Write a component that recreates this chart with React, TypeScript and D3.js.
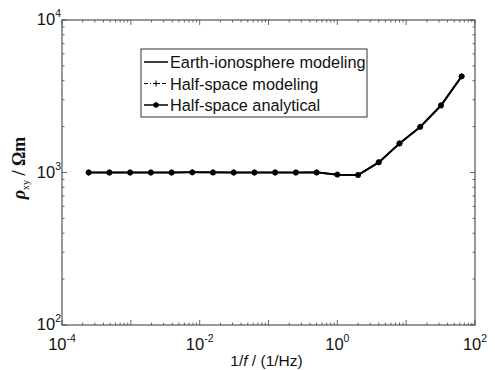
import React, { useEffect, useRef } from 'react'
import * as d3 from 'd3'

// periods 1/f in seconds (powers of two)
const periods = [
  2 ** -12, 2 ** -11, 2 ** -10, 2 ** -9, 2 ** -8, 2 ** -7, 2 ** -6, 2 ** -5, 2 ** -4,
  2 ** -3, 2 ** -2, 2 ** -1, 1, 2, 4, 8, 16, 32, 64,
]
const earthIono = [1000, 1000, 1000, 1000, 1000, 1005, 1002, 1000, 1000, 1000, 1000, 1002, 968, 962, 1165, 1550, 1990, 2750, 4270]
const halfModel = [1000, 1000, 1000, 1000, 1000, 1004, 1001, 1000, 1000, 1000, 1000, 1001, 970, 964, 1168, 1552, 1995, 2755, 4275]
const halfAnalytic = [1000, 1000, 1000, 1000, 1000, 1003, 1001, 1000, 1000, 1000, 1000, 1001, 969, 963, 1167, 1551, 1992, 2752, 4272]
const xTicks = [1e-4, 1e-2, 1, 1e2]
const xTickExp = ['-4', '-2', '0', '2']
const yTicks = [1e2, 1e3, 1e4]
const yTickExp = ['2', '3', '4']
const legendLabels = ['Earth-ionosphere modeling', 'Half-space modeling', 'Half-space analytical']

const W = 495
const H = 370
const margin = { left: 62, right: 20, top: 20, bottom: 45 }

export default function App() {
  const ref = useRef<SVGSVGElement>(null)

  useEffect(() => {
    const svg = d3.select(ref.current)
    svg.selectAll('*').remove()
    const font = 'Liberation Sans, Arial, sans-serif'

    const x = d3.scaleLog().domain([1e-4, 1e2]).range([margin.left, W - margin.right])
    const y = d3.scaleLog().domain([1e2, 1e4]).range([H - margin.bottom, margin.top])
    const x0 = x.range()[0], x1 = x.range()[1]
    const y0 = y.range()[0], y1 = y.range()[1]

    svg.append('rect').attr('x', 0).attr('y', 0).attr('width', W).attr('height', H).attr('fill', '#fff')

    // frame
    svg.append('rect')
      .attr('x', x0).attr('y', y1).attr('width', x1 - x0).attr('height', y0 - y1)
      .attr('fill', 'none').attr('stroke', '#333').attr('stroke-width', 1)

    const g = svg.append('g').attr('stroke', '#444').attr('stroke-width', 0.8)

    // x ticks (major + minor), inside, top and bottom
    const xMinor: number[] = []
    for (let e = -4; e < 2; e++) for (let m = 2; m < 10; m++) xMinor.push(m * 10 ** e)
    xMinor.forEach(v => {
      g.append('line').attr('x1', x(v)).attr('x2', x(v)).attr('y1', y0).attr('y2', y0 - 2.5)
      g.append('line').attr('x1', x(v)).attr('x2', x(v)).attr('y1', y1).attr('y2', y1 + 2.5)
    })
    d3.range(-4, 3).forEach(e => {
      const v = 10 ** e
      g.append('line').attr('x1', x(v)).attr('x2', x(v)).attr('y1', y0).attr('y2', y0 - 5)
      g.append('line').attr('x1', x(v)).attr('x2', x(v)).attr('y1', y1).attr('y2', y1 + 5)
    })
    const yMinor: number[] = []
    for (let e = 2; e < 4; e++) for (let m = 2; m < 10; m++) yMinor.push(m * 10 ** e)
    yMinor.forEach(v => {
      g.append('line').attr('y1', y(v)).attr('y2', y(v)).attr('x1', x0).attr('x2', x0 + 2.5)
      g.append('line').attr('y1', y(v)).attr('y2', y(v)).attr('x1', x1).attr('x2', x1 - 2.5)
    })
    yTicks.forEach(v => {
      g.append('line').attr('y1', y(v)).attr('y2', y(v)).attr('x1', x0).attr('x2', x0 + 5)
      g.append('line').attr('y1', y(v)).attr('y2', y(v)).attr('x1', x1).attr('x2', x1 - 5)
    })

    // tick labels
    xTicks.forEach((v, i) => {
      const t = svg.append('text').attr('x', x(v)).attr('y', y0 + 25)
        .attr('text-anchor', 'middle').attr('font-family', font).attr('font-size', 16.5).attr('fill', '#111')
      t.append('tspan').text('10')
      t.append('tspan').attr('dy', -8).attr('font-size', 10.5).text(xTickExp[i])
    })
    yTicks.forEach((v, i) => {
      const t = svg.append('text').attr('x', x0 - 1).attr('y', y(v) + 5)
        .attr('text-anchor', 'end').attr('font-family', font).attr('font-size', 16.5).attr('fill', '#111')
      t.append('tspan').text('10')
      t.append('tspan').attr('dy', -8).attr('font-size', 10.5).text(yTickExp[i])
    })

    // axis labels
    const xl = svg.append('text').attr('x', (x0 + x1) / 2 - 2).attr('y', H - 4)
      .attr('text-anchor', 'middle').attr('font-family', font).attr('font-size', 15.5).attr('fill', '#111')
    xl.append('tspan').text('1/')
    xl.append('tspan').attr('font-style', 'italic').text('f')
    xl.append('tspan').text(' / (1/Hz)')

    const yl = svg.append('text')
      .attr('transform', `translate(25,168) rotate(-90)`)
      .attr('text-anchor', 'middle').attr('font-family', 'Liberation Serif, serif').attr('font-size', 18)
      .attr('font-weight', 'bold').attr('fill', '#111')
    yl.append('tspan').attr('font-style', 'italic').text('ρ')
    yl.append('tspan').attr('dy', 4).attr('font-size', 10).attr('font-weight', 'normal').text('xy')
    yl.append('tspan').attr('dy', -4).text(' / Ωm')

    // series
    const line = d3.line<number>().x((_, i) => x(periods[i])).y(d => y(d))
    svg.append('path').datum(earthIono).attr('d', line)
      .attr('fill', 'none').attr('stroke', '#000').attr('stroke-width', 2)
    svg.append('path').datum(halfModel).attr('d', line)
      .attr('fill', 'none').attr('stroke', '#000').attr('stroke-width', 1).attr('stroke-dasharray', '4,2,1,2')
    svg.append('path').datum(halfAnalytic).attr('d', line)
      .attr('fill', 'none').attr('stroke', '#000').attr('stroke-width', 1.6)
    halfModel.forEach((d, i) => {
      const cx = x(periods[i]), cy = y(d)
      svg.append('path').attr('d', `M${cx - 3},${cy}H${cx + 3}M${cx},${cy - 3}V${cy + 3}`)
        .attr('stroke', '#000').attr('stroke-width', 1)
    })
    svg.selectAll('circle.pt').data(halfAnalytic).enter().append('circle')
      .attr('class', 'pt')
      .attr('cx', (_, i) => x(periods[i])).attr('cy', d => y(d)).attr('r', 2.9).attr('fill', '#000')

    // legend
    const lx = 141, ly = 49, lw = 226, lh = 68
    svg.append('rect').attr('x', lx).attr('y', ly).attr('width', lw).attr('height', lh)
      .attr('fill', '#fff').attr('stroke', '#333').attr('stroke-width', 1)
    legendLabels.forEach((lab, i) => {
      const cy = ly + 13 + i * 21.5
      const s = svg.append('g')
      s.append('line').attr('x1', lx + 3).attr('x2', lx + 27).attr('y1', cy).attr('y2', cy)
        .attr('stroke', '#000').attr('stroke-width', i === 1 ? 1 : 1.5)
        .attr('stroke-dasharray', i === 1 ? '4,2,1,2' : null)
      if (i === 1) s.append('path').attr('d', `M${lx + 12},${cy}H${lx + 18}M${lx + 15},${cy - 3}V${cy + 3}`)
        .attr('stroke', '#000').attr('stroke-width', 1)
      if (i === 2) s.append('circle').attr('cx', lx + 15).attr('cy', cy).attr('r', 2.7).attr('fill', '#000')
      svg.append('text').attr('x', lx + 29).attr('y', cy + 6)
        .attr('font-family', font).attr('font-size', 16.3).attr('fill', '#111').text(lab)
    })
  }, [])

  return (
    <svg ref={ref} width={W} height={H} style={{ position: 'absolute', left: 0, top: 0 }} />
  )
}
